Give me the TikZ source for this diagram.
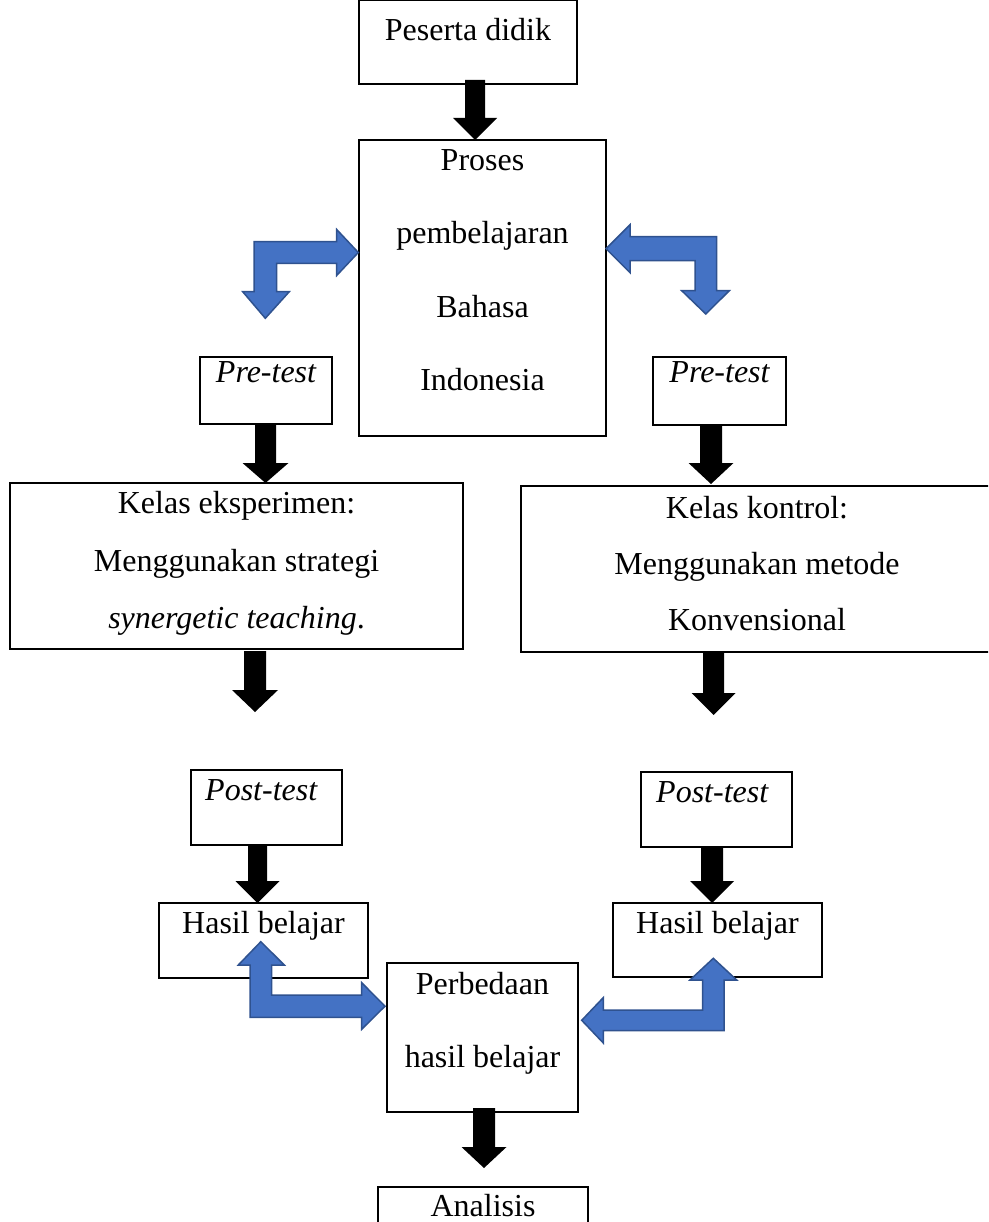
\documentclass[tikz,border=0pt]{standalone}
\usepackage{fontspec}
\setmainfont{Liberation Serif}
\usetikzlibrary{fit}
\definecolor{arrowfill}{HTML}{4472C4}
\definecolor{arrowedge}{HTML}{2F528F}
% #1 centre x, #2 top, #3 head start, #4 tip, #5 half shaft, #6 half head
\newcommand\blkdown[6]{%
  \fill[black] ({#1-#5},#2) -- ({#1+#5},#2) -- ({#1+#5},#3) -- ({#1+#6},#3)
    -- (#1,#4) -- ({#1-#6},#3) -- ({#1-#5},#3) -- cycle;}
\begin{document}
\begin{tikzpicture}[x=1pt,y=-1pt,
  box/.style={draw, line width=1.8pt, inner sep=0pt},
  txt/.style={anchor=base, inner sep=0pt, font=\fontsize{32}{38}\selectfont},
  itxt/.style={anchor=base, inner sep=0pt, font=\fontsize{32}{38}\selectfont\itshape},
  bentarrow/.style={fill=arrowfill, draw=arrowedge, line width=1.5pt, line join=miter}]
\useasboundingbox (0,0) rectangle (988,1222);
\clip (0,0) rectangle (988,1222);

% boxes
\node[box, fit={(359,0) (577,84)}] (peserta) {};
\node[box, fit={(359,140) (606,436)}] (proses) {};
\node[box, fit={(200,357) (332,424)}] (preL) {};
\node[box, fit={(653,357) (786,425)}] (preR) {};
\node[box, fit={(10,483) (463,649)}] (eksp) {};
\node[box, fit={(521,486) (993,652)}] (kont) {};
\node[box, fit={(191,770) (342,845)}] (postL) {};
\node[box, fit={(641,772) (792,847)}] (postR) {};
\node[box, fit={(159,903) (368,978)}] (hasilL) {};
\node[box, fit={(613,903) (822,977)}] (hasilR) {};
\node[box, fit={(387,963) (578,1112)}] (beda) {};
\node[box, fit={(378,1187) (588,1240)}] (anal) {};

% texts
\node[txt] (tpes) at (468,41) {Peserta didik};
\node[txt] (tpro1) at (482.5,171) {Proses};
\node[txt] (tpro2) at (482.5,244) {pembelajaran};
\node[txt] (tpro3) at (482.5,317) {Bahasa};
\node[txt] (tpro4) at (482.5,390) {Indonesia};
\node[itxt] (tpreL) at (266,382) {Pre-test};
\node[itxt] (tpreR) at (719.5,382) {Pre-test};
\node[txt] (tek1) at (236.5,513) {Kelas eksperimen:};
\node[txt] (tek2) at (236.5,571) {Menggunakan strategi};
\node[txt] (tek3) at (236.5,628) {\textit{synergetic teaching}.};
\node[txt] (tko1) at (757,518) {Kelas kontrol:};
\node[txt] (tko2) at (757,574) {Menggunakan metode};
\node[txt] (tko3) at (757,630) {Konvensional};
\node[itxt, anchor=base west] (tpostL) at (205,800) {Post-test};
\node[itxt, anchor=base west] (tpostR) at (656,802) {Post-test};
\node[txt] (thaL) at (263.5,933) {Hasil belajar};
\node[txt] (thaR) at (717.5,933) {Hasil belajar};
\node[txt] (tbe1) at (482.5,994) {Perbedaan};
\node[txt] (tbe2) at (482.5,1067) {hasil belajar};
\node[txt] (tan) at (483,1216) {Analisis};

% black block arrows
\blkdown{475}{80}{118}{140}{10}{22}
\blkdown{265.5}{424}{463}{483}{10.5}{23}
\blkdown{711}{425}{463}{484}{11}{22.5}
\blkdown{255}{651}{690}{712}{11}{23}
\blkdown{713.5}{653}{693}{715}{10.5}{22}
\blkdown{257.5}{845}{881}{903}{9.5}{22}
\blkdown{712}{847}{881}{903}{11}{22}
\blkdown{484}{1108}{1147}{1168}{11}{22.5}

% blue bent arrows
\draw[bentarrow] (254,241.7) -- (336.7,241.7) -- (336.7,229.5) -- (358.3,252.5)
  -- (336.7,275.5) -- (336.7,263.3) -- (276.7,263.3) -- (276.7,291.7)
  -- (289.3,291.7) -- (265.3,318.3) -- (242.7,291.7) -- (254,291.7) -- cycle;
\draw[bentarrow] (716.7,236.7) -- (630,236.7) -- (630,224.7) -- (606,248.7)
  -- (630,272.7) -- (630,260.7) -- (695,260.7) -- (695,290.7)
  -- (681.7,290.7) -- (705.8,314) -- (729.3,290.7) -- (716.7,290.7) -- cycle;
\draw[bentarrow] (250,1017.3) -- (250,965) -- (238.3,965) -- (260.8,941.7)
  -- (284.3,965) -- (271.7,965) -- (271.7,995) -- (361.7,995)
  -- (361.7,982.7) -- (385,1006.2) -- (361.7,1029.3) -- (361.7,1017.3) -- cycle;
\draw[bentarrow] (724,1030.7) -- (724,980) -- (736.7,980) -- (713.3,958.3)
  -- (690,980) -- (702.7,980) -- (702.7,1010) -- (603.3,1010)
  -- (603.3,997.6) -- (581.7,1020.3) -- (603.3,1043) -- (603.3,1030.7) -- cycle;
\end{tikzpicture}
\end{document}
